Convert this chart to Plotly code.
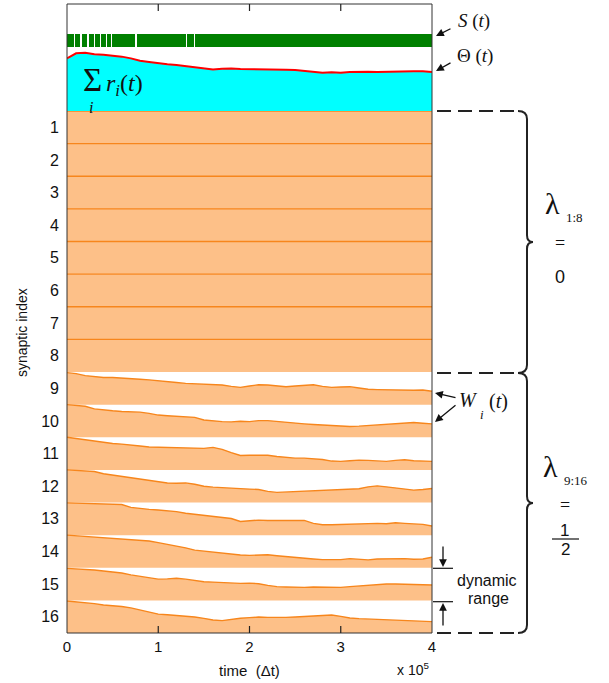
import numpy as np
import plotly.graph_objects as go

# ---------------------------------------------------------------- data
# samples every 1e4 time steps, 0 .. 4e5
T_STEP = 1e4
N_T = 41
TIME = np.arange(N_T) * T_STEP

# total input drive sum_i r_i(t) and sliding threshold Theta(t)
SUM_R = [4.80, 5.30, 5.38, 5.22, 5.18, 5.10, 5.00, 4.85, 4.62, 4.50,
         4.38, 4.28, 4.22, 4.12, 4.05, 3.90, 3.82, 3.86, 3.90, 3.84,
         3.85, 3.80, 3.84, 3.82, 3.78, 3.75, 3.70, 3.60, 3.50, 3.54,
         3.50, 3.56, 3.60, 3.58, 3.57, 3.60, 3.63, 3.66, 3.63, 3.64, 3.56]
THETA = [4.92, 5.39, 5.45, 5.30, 5.25, 5.20, 5.08, 4.92, 4.70, 4.58,
         4.45, 4.36, 4.30, 4.20, 4.14, 3.98, 3.89, 3.95, 3.98, 3.92,
         3.92, 3.89, 3.92, 3.89, 3.86, 3.83, 3.77, 3.67, 3.58, 3.61,
         3.58, 3.64, 3.67, 3.67, 3.64, 3.67, 3.71, 3.74, 3.71, 3.71, 3.64]

# output S(t): on throughout, except brief off periods early in learning
S_OFF_TIMES = [8.0e3, 15.3e3, 23.0e3, 30.0e3, 37.0e3, 43.0e3, 49.0e3,
               75.6e3, 131.0e3, 140.0e3]
S_OFF_WIDTH = 1.5e3

# synaptic weights, as a fraction of the dynamic range
W_SATURATED = 1.0  # synapses 1-8 (lambda = 0) stay at the top
W9 = [0.98, 0.95, 0.89, 0.85, 0.83, 0.83, 0.82, 0.80, 0.78, 0.76,
      0.74, 0.72, 0.68, 0.65, 0.64, 0.63, 0.62, 0.60, 0.56, 0.53,
      0.57, 0.61, 0.60, 0.57, 0.55, 0.57, 0.58, 0.61, 0.56, 0.53,
      0.54, 0.55, 0.51, 0.47, 0.46, 0.45, 0.44, 0.43, 0.44, 0.45, 0.41]
W10 = [1.00, 0.98, 0.95, 0.87, 0.83, 0.81, 0.79, 0.78, 0.77, 0.73,
       0.68, 0.66, 0.64, 0.62, 0.61, 0.53, 0.50, 0.48, 0.47, 0.49,
       0.48, 0.51, 0.51, 0.48, 0.45, 0.42, 0.41, 0.39, 0.37, 0.35,
       0.34, 0.33, 0.34, 0.36, 0.37, 0.40, 0.43, 0.45, 0.45, 0.43, 0.41]
W11 = [1.00, 0.96, 0.92, 0.88, 0.84, 0.81, 0.79, 0.77, 0.73, 0.70,
       0.69, 0.68, 0.67, 0.66, 0.66, 0.66, 0.69, 0.63, 0.53, 0.44,
       0.45, 0.46, 0.45, 0.41, 0.38, 0.36, 0.36, 0.34, 0.32, 0.27,
       0.26, 0.28, 0.30, 0.29, 0.28, 0.26, 0.29, 0.31, 0.28, 0.26, 0.26]
W12 = [1.00, 0.99, 0.97, 0.95, 0.88, 0.84, 0.80, 0.75, 0.71, 0.67,
       0.63, 0.60, 0.59, 0.60, 0.56, 0.50, 0.47, 0.45, 0.43, 0.42,
       0.41, 0.40, 0.34, 0.31, 0.32, 0.34, 0.35, 0.36, 0.36, 0.38,
       0.38, 0.39, 0.42, 0.48, 0.51, 0.48, 0.44, 0.42, 0.38, 0.40, 0.43]
W13 = [0.99, 0.98, 0.97, 0.96, 0.96, 0.95, 0.94, 0.85, 0.81, 0.79,
       0.77, 0.75, 0.72, 0.67, 0.64, 0.60, 0.57, 0.54, 0.51, 0.42,
       0.45, 0.46, 0.45, 0.45, 0.46, 0.45, 0.45, 0.36, 0.32, 0.32,
       0.33, 0.33, 0.34, 0.36, 0.36, 0.35, 0.38, 0.36, 0.35, 0.33, 0.28]
W14 = [1.00, 0.98, 0.95, 0.93, 0.91, 0.90, 0.89, 0.87, 0.85, 0.82,
       0.77, 0.72, 0.66, 0.61, 0.54, 0.51, 0.48, 0.44, 0.41, 0.39,
       0.38, 0.38, 0.40, 0.37, 0.34, 0.32, 0.29, 0.27, 0.25, 0.24,
       0.25, 0.28, 0.26, 0.24, 0.27, 0.28, 0.29, 0.28, 0.26, 0.27, 0.32]
W15 = [0.98, 0.97, 0.96, 0.93, 0.90, 0.87, 0.84, 0.78, 0.73, 0.68,
       0.65, 0.66, 0.68, 0.65, 0.61, 0.57, 0.56, 0.54, 0.53, 0.52,
       0.53, 0.51, 0.46, 0.42, 0.41, 0.40, 0.40, 0.41, 0.40, 0.40,
       0.40, 0.42, 0.44, 0.46, 0.49, 0.50, 0.50, 0.50, 0.49, 0.48, 0.47]
W16 = [0.98, 0.96, 0.93, 0.90, 0.86, 0.84, 0.81, 0.77, 0.71, 0.63,
       0.58, 0.56, 0.54, 0.53, 0.49, 0.45, 0.40, 0.38, 0.42, 0.45,
       0.47, 0.49, 0.48, 0.47, 0.48, 0.49, 0.50, 0.52, 0.54, 0.55,
       0.51, 0.46, 0.44, 0.43, 0.41, 0.40, 0.39, 0.38, 0.39, 0.37, 0.35]

X_TICKS = [0, 1e5, 2e5, 3e5, 4e5]
X_TICK_TEXT = ["0", "1", "2", "3", "4"]
ROW_LABELS = [str(i) for i in range(1, 17)]

# ---------------------------------------------------------------- styling
W, H = 609, 683
PLOT_L, PLOT_R, PLOT_T, PLOT_B = 67, 432, 4, 633
ROWS_TOP = 111
SANS = "Liberation Sans, Arial, sans-serif"
SERIF = "Liberation Serif, Times New Roman, serif"
FILL_ORANGE = "#fdc088"
LINE_ORANGE = "#f7861c"
INK = "#111111"


def px_x(p):
    return (p - PLOT_L) / (PLOT_R - PLOT_L)


def px_y(p):
    return (PLOT_B - p) / (PLOT_B - PLOT_T)


ROW_DOMAIN_TOP = px_y(ROWS_TOP)

fig = go.Figure()

# ---------------------------------------------------------------- weight rows
weights = [[W_SATURATED] * N_T for _ in range(8)] + [W9, W10, W11, W12, W13, W14, W15, W16]
for idx, w in enumerate(weights):
    base = 16 - (idx + 1)
    top = [base + v for v in w]
    fig.add_trace(go.Scatter(
        x=list(TIME) + list(TIME[::-1]),
        y=top + [base] * N_T,
        fill="toself", fillcolor=FILL_ORANGE, mode="lines",
        line=dict(width=0), hoverinfo="skip", showlegend=False,
        xaxis="x", yaxis="y"))
    fig.add_trace(go.Scatter(
        x=TIME, y=top, mode="lines",
        line=dict(color=LINE_ORANGE, width=1.4),
        showlegend=False, xaxis="x", yaxis="y"))

# ---------------------------------------------------------------- top panel
fig.add_trace(go.Scatter(
    x=TIME, y=SUM_R, mode="lines", fill="tozeroy",
    fillcolor="#00ffff", line=dict(color="#00ffff", width=1),
    showlegend=False, xaxis="x2", yaxis="y2"))
fig.add_trace(go.Scatter(
    x=TIME, y=THETA, mode="lines", line=dict(color="#ff0000", width=2),
    showlegend=False, xaxis="x2", yaxis="y2"))

# S(t) drawn as the stretches where the output is on
t_end = float(TIME[-1])
starts = [0.0] + [t + S_OFF_WIDTH / 2 for t in S_OFF_TIMES]
ends = [t - S_OFF_WIDTH / 2 for t in S_OFF_TIMES] + [t_end]
centers = [(a + b) / 2 for a, b in zip(starts, ends)]
widths = [b - a for a, b in zip(starts, ends)]
S_BASE, S_HEIGHT = 6.0, 1.2
fig.add_trace(go.Bar(
    x=centers, y=[S_HEIGHT] * len(centers), base=S_BASE, width=widths,
    marker=dict(color="#008000", line=dict(width=0)),
    showlegend=False, xaxis="x2", yaxis="y2"))

# ---------------------------------------------------------------- axes
fig.update_layout(
    width=W, height=H,
    margin=dict(l=PLOT_L, r=W - PLOT_R, t=PLOT_T, b=H - PLOT_B, pad=0),
    paper_bgcolor="white", plot_bgcolor="white",
    showlegend=False, bargap=0,
    xaxis=dict(range=[0, t_end], tickvals=X_TICKS, ticktext=X_TICK_TEXT,
               ticks="", ticklabelstandoff=3,
               tickfont=dict(family=SANS, size=15, color=INK),
               showgrid=False, zeroline=False, showline=False, anchor="y"),
    yaxis=dict(domain=[0, ROW_DOMAIN_TOP], range=[0, 16],
               tickvals=[16 - i + 0.5 for i in range(1, 17)], ticktext=ROW_LABELS,
               ticks="", ticklabelstandoff=7,
               tickfont=dict(family=SANS, size=16, color=INK),
               showgrid=False, zeroline=False, showline=False, anchor="x"),
    xaxis2=dict(matches="x", anchor="y2", side="top", showticklabels=False,
                ticks="", showgrid=False, zeroline=False, showline=False),
    yaxis2=dict(domain=[ROW_DOMAIN_TOP, 1], range=[0, 10], anchor="x2",
                showticklabels=False, ticks="", showgrid=False,
                zeroline=False, showline=False),
)

# ---------------------------------------------------------------- frame, ticks, brackets
shapes = [dict(type="rect", xref="paper", yref="paper", x0=0, x1=1, y0=0, y1=1,
               line=dict(color="#333", width=1), layer="above")]

# inward tick marks on the bottom and top edges of the frame
TICK_IN = 7 / (PLOT_B - PLOT_T)
for tv in X_TICKS[1:-1]:
    xp = tv / t_end
    for y0, y1 in ((0, TICK_IN), (1, 1 - TICK_IN)):
        shapes.append(dict(type="line", xref="paper", yref="paper",
                           x0=xp, x1=xp, y0=y0, y1=y1,
                           line=dict(color="#222", width=1.2), layer="above"))

DASH = dict(color="#222", width=2, dash="14px,7px")
for ypix in (ROWS_TOP, 373, PLOT_B):
    shapes.append(dict(type="line", xref="paper", yref="paper",
                       x0=px_x(437), x1=px_x(518), y0=px_y(ypix), y1=px_y(ypix),
                       line=DASH))


def brace_path(top, bottom, xv=527, tip=533, corner=518):
    mid = (top + bottom) / 2
    pts = [
        ("M", corner, top), ("Q", xv, top), ("", xv, top + 8),
        ("L", xv, mid - 7), ("Q", xv, mid), ("", tip, mid),
        ("Q", xv, mid), ("", xv, mid + 7),
        ("L", xv, bottom - 8), ("Q", xv, bottom), ("", corner, bottom),
    ]
    out = []
    for cmd, a, b in pts:
        out.append(f"{cmd}{px_x(a):.5f},{px_y(b):.5f}" if cmd else f" {px_x(a):.5f},{px_y(b):.5f}")
    return " ".join(out)


for top, bottom in ((ROWS_TOP, 373), (373, PLOT_B)):
    shapes.append(dict(type="path", xref="paper", yref="paper",
                       path=brace_path(top, bottom),
                       line=dict(color="#222", width=2)))

# fraction bar of 1/2
shapes.append(dict(type="line", xref="paper", yref="paper",
                   x0=px_x(552), x1=px_x(579), y0=px_y(539), y1=px_y(539),
                   line=dict(color=INK, width=1.2)))
# dynamic range markers
for ypix in (568.3, 601.7):
    shapes.append(dict(type="line", xref="paper", yref="paper",
                       x0=px_x(433), x1=px_x(453), y0=px_y(ypix), y1=px_y(ypix),
                       line=dict(color=INK, width=1.2)))
fig.update_layout(shapes=shapes)

# ---------------------------------------------------------------- text
ann = []


def text(x, y, s, size, family=SERIF, xanchor="center", yanchor="middle", angle=0):
    ann.append(dict(x=px_x(x), y=px_y(y), xref="paper", yref="paper", text=s,
                    showarrow=False, xanchor=xanchor, yanchor=yanchor,
                    textangle=angle, font=dict(family=family, size=size, color=INK)))


def arrow(x_tip, y_tip, x_tail, y_tail):
    ann.append(dict(x=px_x(x_tip), y=px_y(y_tip), xref="paper", yref="paper",
                    ax=x_tail - x_tip, ay=y_tail - y_tip, text="",
                    showarrow=True, arrowhead=2, arrowsize=1.2, arrowwidth=1.3,
                    arrowcolor=INK, standoff=0, startstandoff=0))


# top panel labels
text(474, 21, "<i>S</i> (<i>t</i>)", 19)
arrow(436, 36, 452, 28)
text(475, 56, "Θ (<i>t</i>)", 19)
arrow(436, 71, 452, 62)
text(92, 80, "Σ", 33)
text(91, 107, "<i>i</i>", 16)
text(104, 85, "<i>r</i><sub><i>i</i></sub>(<i>t</i>)", 24, xanchor="left")

# weights label
text(469, 400, "<i>W</i>", 20)
text(482, 414, "<i>i</i>", 13)
text(498, 401, "(<i>t</i>)", 20)
arrow(435, 393, 457, 398)
arrow(435, 422, 457, 404)

# lambda groups
text(552, 203, "λ", 30)
text(574, 217, "1:8", 13)
text(560, 243, "=", 18)
text(560, 277, "0", 18, family=SANS)
text(550, 466, "λ", 30)
text(576, 480, "9:16", 13)
text(565, 505, "=", 18)
text(564, 530, "1", 17, family=SANS)
text(565, 549, "2", 17, family=SANS)

# dynamic range
arrow(443, 567, 443, 545)
arrow(443, 603, 443, 627)
text(487, 580, "dynamic", 16, family=SANS)
text(488, 598, "range", 16, family=SANS)

# axis titles
text(22, 333, "synaptic index", 14, family=SANS, angle=-90)
text(249, 670, "time  (Δt)", 15, family=SANS)
text(413, 669, "x 10<sup>5</sup>", 14, family=SANS)

fig.update_layout(annotations=ann)

fig.write_html("out.html")
